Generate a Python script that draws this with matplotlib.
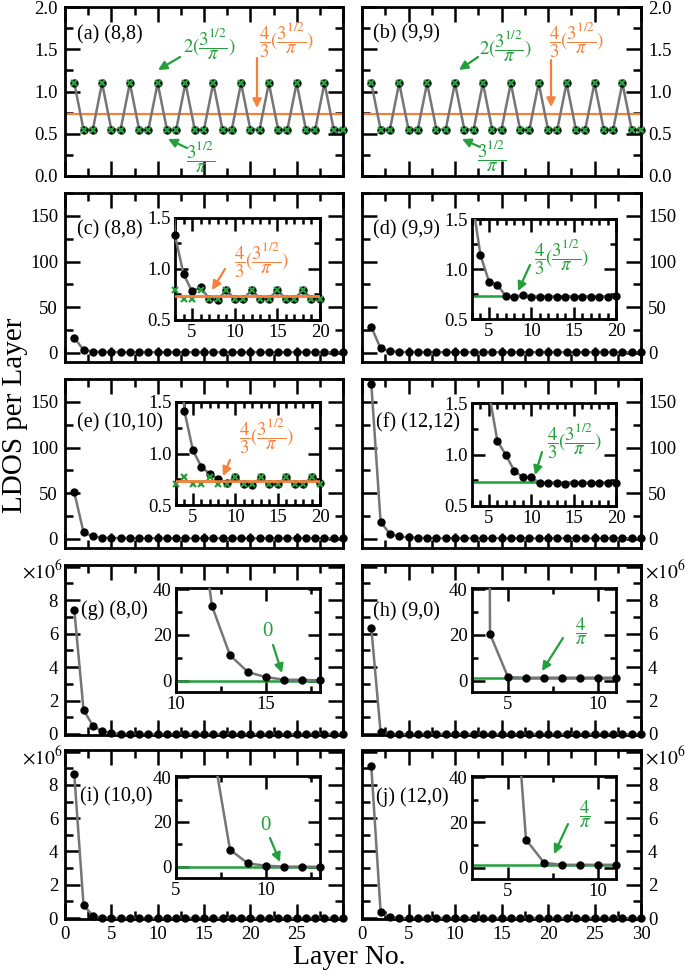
import numpy as np
import matplotlib
matplotlib.use('Agg')
import matplotlib.pyplot as plt
from matplotlib.ticker import MultipleLocator, FuncFormatter, FormatStrFormatter

plt.rcParams['font.family'] = ['Liberation Serif', 'DejaVu Serif']
plt.rcParams['mathtext.fontset'] = 'stix'
plt.rcParams['mathtext.default'] = 'it'

# ---------------- data ----------------
layers = list(range(1, 31))

ldos_a = [1.10, 0.55, 0.55, 1.10, 0.55, 0.55, 1.10, 0.55, 0.55, 1.10,
          0.55, 0.55, 1.10, 0.55, 0.55, 1.10, 0.55, 0.55, 1.10, 0.55,
          0.55, 1.10, 0.55, 0.55, 1.10, 0.55, 0.55, 1.10, 0.55, 0.55]
ldos_b = [1.10, 0.55, 0.55, 1.10, 0.55, 0.55, 1.10, 0.55, 0.55, 1.10,
          0.55, 0.55, 1.10, 0.55, 0.55, 1.10, 0.55, 0.55, 1.10, 0.55,
          0.55, 1.10, 0.55, 0.55, 1.10, 0.55, 0.55, 1.10, 0.55, 0.55]
ldos_c = [16.4, 3.3, 1.33, 0.95, 0.78, 0.82, 0.71, 0.70, 0.79, 0.71,
          0.71, 0.79, 0.71, 0.71, 0.79, 0.71, 0.71, 0.79, 0.71, 0.71,
          0.79, 0.71, 0.71, 0.79, 0.71, 0.71, 0.79, 0.71, 0.71, 0.79]
ldos_d = [28.5, 4.8, 1.70, 1.14, 0.875, 0.84, 0.73, 0.72, 0.745, 0.72,
          0.72, 0.725, 0.725, 0.725, 0.725, 0.725, 0.725, 0.725, 0.725, 0.73,
          0.73, 0.73, 0.73, 0.73, 0.73, 0.73, 0.73, 0.73, 0.73, 0.73]
ldos_e = [51.0, 7.3, 2.6, 1.41, 1.03, 0.87, 0.80, 0.75, 0.71, 0.77,
          0.70, 0.69, 0.77, 0.70, 0.70, 0.77, 0.70, 0.70, 0.77, 0.71,
          0.70, 0.77, 0.70, 0.70, 0.77, 0.70, 0.70, 0.77, 0.70, 0.70]
ldos_f = [169.6, 18.5, 5.6, 2.6, 1.6, 1.13, 0.995, 0.84, 0.78, 0.78,
          0.72, 0.725, 0.72, 0.715, 0.72, 0.72, 0.72, 0.72, 0.72, 0.72,
          0.72, 0.72, 0.72, 0.72, 0.72, 0.72, 0.72, 0.72, 0.72, 0.72]
ldos_g = [7.44e6, 1.44e6, 5.0e5, 1.6e5, 5.5e4, 1.8e4, 6.0e3, 2.0e3, 700, 260,
          90, 32.6, 11.1, 3.7, 1.5, 0.4, 0.3, 0.1, 0.05, 0.02,
          0, 0, 0, 0, 0, 0, 0, 0, 0, 0]
ldos_h = [6.34e6, 1.0e5, 2.0e3, 20.4, 1.5, 1.27, 1.27, 1.27, 1.27, 1.27,
          1.27, 1.27, 1.27, 1.27, 1.27, 1.27, 1.27, 1.27, 1.27, 1.27,
          1.27, 1.27, 1.27, 1.27, 1.27, 1.27, 1.27, 1.27, 1.27, 1.27]
ldos_i = [8.64e6, 7.8e5, 1.4e5, 2.0e4, 3.0e3, 400, 55, 7.6, 1.5, 0.45,
          0.1, 0.05, 0.02, 0.01, 0, 0, 0, 0, 0, 0,
          0, 0, 0, 0, 0, 0, 0, 0, 0, 0]
ldos_j = [9.13e6, 3.8e5, 4.0e4, 3.0e3, 120, 12.4, 2.2, 1.27, 1.27, 1.27,
          1.27, 1.27, 1.27, 1.27, 1.27, 1.27, 1.27, 1.27, 1.27, 1.27,
          1.27, 1.27, 1.27, 1.27, 1.27, 1.27, 1.27, 1.27, 1.27, 1.27]

cross_layers = list(range(3, 21))
cross_c = [0.79, 0.71, 0.71, 0.79, 0.71, 0.71, 0.79, 0.71, 0.71,
           0.79, 0.71, 0.71, 0.79, 0.71, 0.71, 0.79, 0.71, 0.71]
cross_e = [0.70, 0.77, 0.70, 0.70, 0.77, 0.70, 0.70, 0.77, 0.70,
           0.70, 0.77, 0.70, 0.70, 0.77, 0.70, 0.70, 0.77, 0.70]

ref_armchair = 0.735   # 4/3 (3^(1/2)/pi)
ref_zero = 0.0
ref_four_pi = 1.273    # 4/pi

labels = ['(a) (8,8)', '(b) (9,9)', '(c) (8,8)', '(d) (9,9)', '(e) (10,10)',
          '(f) (12,12)', '(g) (8,0)', '(h) (9,0)', '(i) (10,0)', '(j) (12,0)']

# ---------------- style ----------------
W, H = 685, 976
GREEN = '#23a03c'
ORANGE = '#f7803a'
GRAY = '#767676'
FS = 13.5

fig = plt.figure(figsize=(W / 100, H / 100), dpi=100)


def rect(l, t, r, b):
    return [l / W, 1 - b / H, (r - l) / W, (b - t) / H]


def fp(x, y):
    return (x / W, 1 - y / H)


def style(ax, maj_len=11, min_len=5.5, lw=2.0):
    for s in ax.spines.values():
        s.set_linewidth(lw)
    ax.tick_params(which='both', direction='in', top=True, right=True,
                   width=lw * 0.9, labelsize=FS)
    ax.tick_params(which='major', length=maj_len, pad=5)
    ax.tick_params(which='minor', length=min_len)


cols = [(65, 343), (362, 641)]
rows = [(7, 176), (193, 362), (379, 548), (565, 735), (750, 919)]
data = [ldos_a, ldos_b, ldos_c, ldos_d, ldos_e, ldos_f, ldos_g, ldos_h, ldos_i, ldos_j]
label_pos = [(77, 35), (373, 34), (77, 230), (373, 230), (77, 423),
             (376, 423), (81, 610), (373, 612), (80, 797), (376, 797)]

mil = FuncFormatter(lambda v, p: '' if v > 9e6 else '%d' % round(v / 1e6))

axes = []
for k in range(10):
    r, c = divmod(k, 2)
    l, rr = cols[c]
    t, b = rows[r]
    ax = fig.add_axes(rect(l, t, rr, b))
    style(ax)
    vals = data[k]
    ax.plot(layers, vals, '-', color=GRAY, lw=1.8, zorder=3)
    ax.plot(layers, vals, 'o', color='black', ms=5, zorder=4, clip_on=False)
    ax.set_xlim(0, 30)
    ax.xaxis.set_major_locator(MultipleLocator(5))
    ax.xaxis.set_minor_locator(MultipleLocator(2.5))
    if r == 0:
        ax.set_ylim(0, 2)
        ax.yaxis.set_major_locator(MultipleLocator(0.5))
        ax.yaxis.set_minor_locator(MultipleLocator(0.25))
        ax.yaxis.set_major_formatter(FormatStrFormatter('%.1f'))
        ax.plot(layers, vals, 'x', color=GREEN, ms=5, mew=1.6, zorder=5, clip_on=False)
        ax.axhline(ref_armchair, color=ORANGE, lw=1.6, zorder=2)
    elif r in (1, 2):
        ax.set_ylim(-10, 175)
        ax.yaxis.set_major_locator(MultipleLocator(50))
        ax.yaxis.set_minor_locator(MultipleLocator(25))
    else:
        ax.set_ylim(-0.06e6, 10.1e6)
        ax.yaxis.set_major_locator(MultipleLocator(2e6))
        ax.yaxis.set_minor_locator(MultipleLocator(1e6))
        ax.yaxis.set_major_formatter(mil)
    if c == 1:
        ax.tick_params(labelleft=False, labelright=True)
    if r < 4:
        ax.tick_params(labelbottom=False)
    elif c == 0:
        ax.xaxis.set_major_formatter(FuncFormatter(lambda v, p: '' if v >= 30 else '%d' % v))
    fig.text(*fp(*label_pos[k]), labels[k], fontsize=14.5, ha='left', va='center')
    axes.append(ax)

# ---------------- insets ----------------
inset_rects = {2: (175, 218, 320, 320), 3: (472, 219, 616, 319),
               4: (176, 402, 320, 505), 5: (472, 403, 616, 506),
               6: (176, 588, 320, 692), 7: (472, 588, 616, 692),
               8: (176, 776, 320, 878), 9: (472, 776, 616, 879)}
inset_xlim = {2: (3, 20), 3: (3, 20), 4: (3, 20), 5: (3, 20),
              6: (10, 18), 7: (3, 11), 8: (5, 13), 9: (3, 11)}
inset_ref = {2: (ref_armchair, ORANGE), 3: (ref_armchair, GREEN),
             4: (ref_armchair, ORANGE), 5: (ref_armchair, GREEN),
             6: (ref_zero, GREEN), 7: (ref_four_pi, GREEN),
             8: (ref_zero, GREEN), 9: (ref_four_pi, GREEN)}

for k, rc in inset_rects.items():
    ax = fig.add_axes(rect(*rc))
    style(ax, maj_len=9, min_len=4.5, lw=2.0)
    ax.tick_params(which='major', pad=3)
    x0, x1 = inset_xlim[k]
    vals = np.array(data[k], dtype=float)
    lx = np.array(layers)
    if k <= 5:
        ylo, yhi = 0.5, 1.5
        ax.yaxis.set_major_locator(MultipleLocator(0.5))
        ax.yaxis.set_minor_locator(MultipleLocator(0.25))
        ax.yaxis.set_major_formatter(FormatStrFormatter('%.1f'))
        ax.xaxis.set_minor_locator(MultipleLocator(1))
    else:
        ylo, yhi = -5, 40.5
        ax.yaxis.set_major_locator(MultipleLocator(20))
        ax.yaxis.set_minor_locator(MultipleLocator(10))
        ax.xaxis.set_minor_locator(MultipleLocator(2.5))
    ax.xaxis.set_major_locator(MultipleLocator(5))
    ax.set_xlim(x0, x1)
    ax.set_ylim(ylo, yhi)
    refv, refc = inset_ref[k]
    ax.axhline(refv, color=refc, lw=1.8, zorder=2)
    ax.plot(lx, vals, '-', color=GRAY, lw=1.8, zorder=3)
    m = (lx >= x0) & (lx <= x1) & (vals <= yhi) & (vals >= ylo)
    ax.plot(lx[m], vals[m], 'o', color='black', ms=5, zorder=4, clip_on=False)
    if k in (2, 4):
        cr = cross_c if k == 2 else cross_e
        ax.plot(cross_layers, cr, 'x', color=GREEN, ms=5, mew=1.6, zorder=5, clip_on=False)
        ax.axhline(refv, color=refc, lw=1.8, zorder=6)

# ---------------- annotations ----------------
def note(txt, pos, color, fs=13.5):
    fig.text(*fp(*pos), txt, color=color, fontsize=fs, ha='center', va='center')


def arrow(p0, p1, color):
    fig.add_artist(matplotlib.patches.FancyArrowPatch(
        fp(*p0), fp(*p1), transform=fig.transFigure, arrowstyle='-|>',
        mutation_scale=13, color=color, lw=1.6, shrinkA=0, shrinkB=0))


two = r'$2(\dfrac{3^{1/2}}{\pi})$'
four3 = r'$\dfrac{4}{3}(\dfrac{3^{1/2}}{\pi})$'
one = r'$\dfrac{3^{1/2}}{\pi}$'
fourpi = r'$\dfrac{4}{\pi}$'

# (a)
note(two, (209, 44), GREEN); arrow((180, 57), (158, 70), GREEN)
note(four3, (287, 40), ORANGE); arrow((257, 58), (257, 108), ORANGE)
note(one, (201, 157), GREEN); arrow((187, 148), (168, 139), GREEN)
# (b)
note(two, (505, 46), GREEN); arrow((478, 57), (459, 70), GREEN)
note(four3, (577, 40), ORANGE); arrow((551, 60), (551, 107), ORANGE)
note(one, (492, 156), GREEN); arrow((480, 147), (462, 139), GREEN)
# (c)-(f)
note(four3, (262, 260), ORANGE); arrow((225, 269), (212, 290), ORANGE)
note(four3, (562, 257), GREEN); arrow((530, 265), (518, 291), GREEN)
note(four3, (267, 436), ORANGE); arrow((230, 460), (223, 476), ORANGE)
note(four3, (575, 441), GREEN); arrow((542, 452), (535, 475), GREEN)
# (g)-(j)
note('0', (267, 631), GREEN, 15); arrow((273, 645), (282, 673), GREEN)
note(fourpi, (581, 631), GREEN); arrow((563, 638), (542, 671), GREEN)
note('0', (265, 825), GREEN, 15); arrow((270, 838), (280, 862), GREEN)
note(fourpi, (585, 814), GREEN); arrow((568, 824), (554, 854), GREEN)

# x10^6 markers
for (x, y) in [(22, 582), (645, 582), (22, 768), (645, 768)]:
    fig.text(*fp(x, y), r'$\mathrm{\times10^{6}}$', fontsize=14, ha='left', va='bottom')

fig.text(*fp(15, 415), 'LDOS per Layer', fontsize=21, rotation=90, ha='center', va='center')
fig.text(*fp(349, 957), 'Layer No.', fontsize=20, ha='center', va='center')

fig.savefig('out.png', dpi=100)
